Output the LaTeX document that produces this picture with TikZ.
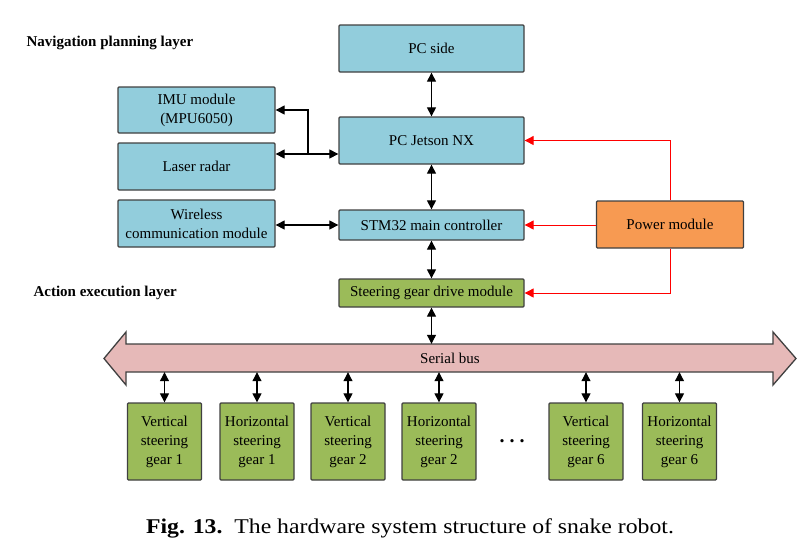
\documentclass[tikz,border=0pt]{standalone}
\usepackage{fontspec}
\setmainfont{Liberation Serif}
\usepackage{xcolor}
\usetikzlibrary{arrows.meta}
\definecolor{boxblue}{HTML}{92CDDC}
\definecolor{boxgreen}{HTML}{9BBB59}
\definecolor{boxorange}{HTML}{F79A52}
\definecolor{buspink}{HTML}{E6B9B8}
\definecolor{edgegray}{HTML}{404040}
\begin{document}
\begin{tikzpicture}[x=1pt, y=-1pt,
        box/.style={draw=edgegray, line width=1.3pt, rounded corners=1pt, align=center,
            font=\fontsize{15}{19}\selectfont, inner sep=0pt},
        ctrl/.style={box, fill=boxblue, minimum width=185pt},
        sensor/.style={box, fill=boxblue, minimum width=157pt, minimum height=47pt},
        gear/.style={box, fill=boxgreen, minimum width=74pt, minimum height=77pt},
        layer/.style={font=\fontsize{15}{18}\selectfont\bfseries, anchor=west},
        dbl/.style={line width=1.1pt, {Triangle[length=9pt,width=9pt]}-{Triangle[length=9pt,width=9pt]}},
        sgl/.style={line width=1.1pt, -{Triangle[length=9pt,width=9pt]}},
        pw/.style={red, line width=0.9pt, -{Triangle[length=9pt,width=9pt]}}]
    \useasboundingbox (0,0) rectangle (804,547);
    \node[layer] (navlayer) at (23,43) {Navigation planning layer};
    \node[layer] (actlayer) at (30,293) {Action execution layer};
    \node[ctrl, minimum height=47pt] (pcside) at (431.5,48.5) {PC side};
    \node[ctrl, minimum height=47pt] (jetson) at (431.5,140.5) {PC Jetson NX};
    \node[ctrl, minimum height=30pt] (stm) at (431.5,225) {STM32 main controller};
    \node[ctrl, minimum height=28pt, fill=boxgreen] (drive) at (431.5,293) {Steering gear drive module};
    \node[sensor, minimum height=46pt] (imu) at (196.5,110) {IMU module\\(MPU6050)};
    \node[sensor] (laser) at (196.5,166.5) {Laser radar};
    \node[sensor] (wireless) at (196.5,223.5) {Wireless\\communication module};
    \node[box, fill=boxorange, minimum width=147pt, minimum height=47pt] (power) at (670,224.5) {Power module};
    \draw[edgegray, line width=1.3pt, fill=buspink] (104,358.5) -- (126,332) -- (126,344) -- (773,344)
        -- (773,332) -- (796,358.5) -- (773,385) -- (773,372) -- (126,372) -- (126,385) -- cycle;
    \node[minimum width=647pt, minimum height=28pt, inner sep=0pt, font=\fontsize{15}{19}\selectfont] (bus) at (450,358) {Serial bus};
    \node[gear] (g1) at (164.5,441.5) {Vertical\\steering\\gear 1};
    \node[gear] (g2) at (257,441.5) {Horizontal\\steering\\gear 1};
    \node[gear] (g3) at (348,441.5) {Vertical\\steering\\gear 2};
    \node[gear] (g4) at (439,441.5) {Horizontal\\steering\\gear 2};
    \node[gear] (g5) at (586,441.5) {Vertical\\steering\\gear 6};
    \node[gear] (g6) at (679.5,441.5) {Horizontal\\steering\\gear 6};
    \node[font=\fontsize{20}{20}\selectfont\bfseries] (dots) at (512,441) {.~.~.};
    \draw[dbl] (pcside) -- (jetson);
    \draw[dbl] (jetson) -- (stm);
    \draw[dbl] (stm) -- (drive);
    \draw[dbl] (drive) -- (drive.south |- bus.north);
    \coordinate (split) at (308,154);
    \draw[sgl] (split) -- (split -| jetson.west);
    \draw[sgl] (split) -- (split -| laser.east);
    \draw[sgl] (split) |- (imu.east);
    \draw[dbl] (wireless.east |- stm.west) -- (stm.west);
    \foreach \g in {g1,g2,g3,g4,g5,g6}
        \draw[dbl] (\g.north) -- (\g.north |- bus.south);
    \draw[pw] (power.north) |- (jetson.east);
    \draw[pw] (power.west |- stm.east) -- (stm.east);
    \draw[pw] (power.south) |- (drive.east);
    \node[font=\fontsize{21}{24}\selectfont, xscale=1.13, transform shape] (caption) at (410,528) {\textbf{Fig. 13.}\ \ The hardware system structure of snake robot.};
\end{tikzpicture}
\end{document}
